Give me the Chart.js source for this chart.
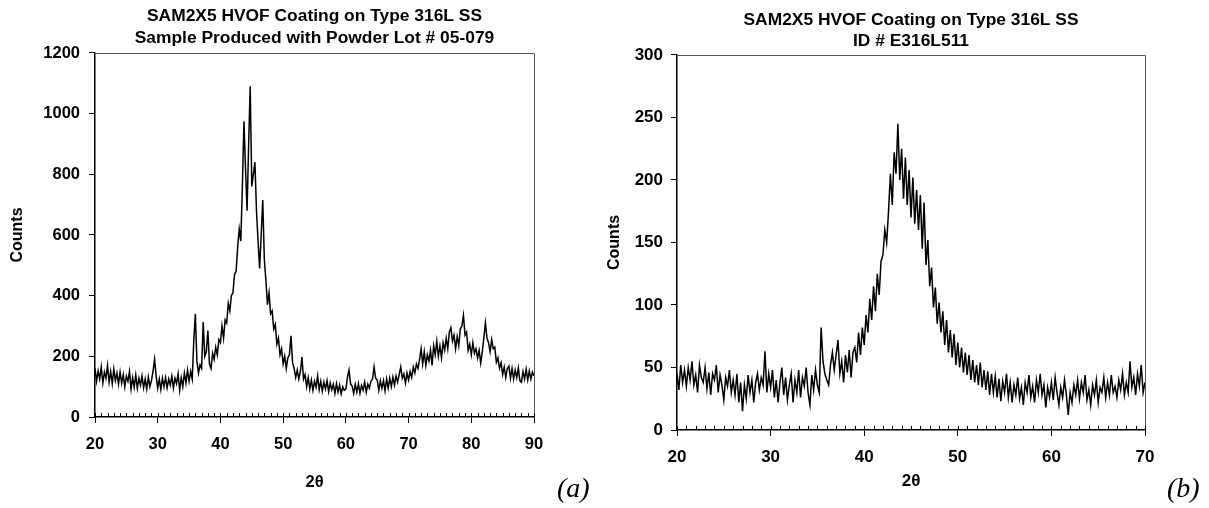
<!DOCTYPE html>
<html>
<head>
<meta charset="utf-8">
<title>SAM2X5 HVOF coating XRD</title>
<script src="https://cdn.jsdelivr.net/npm/chart.js@4.4.1/dist/chart.umd.min.js"></script>
<style>
  html, body { margin: 0; padding: 0; background: #fff; overflow: hidden; }
  #wrap { position: relative; width: 1209px; height: 508px; }
  canvas { position: absolute; top: 0; }
  #chartA { left: 0; }
  #chartB { left: 600px; }
  .panel-tag { position: absolute; top: 474px; font: italic 28px "Liberation Serif", "Times New Roman", serif; line-height: 1; color: #000; }
</style>
</head>
<body>
<div id="wrap">
  <canvas id="chartA" width="600" height="508"></canvas>
  <canvas id="chartB" width="609" height="508"></canvas>
  <div class="panel-tag" style="left:557px">(a)</div>
  <div class="panel-tag" style="left:1167px">(b)</div>
</div>
<script>
// Panel (a): powder lot 05-079, scan 20-90 deg, one reading every 0.25 deg
const scanA = { start: 20, step: 0.25 };
const countsA = [
  160, 118, 152, 125, 165, 112, 148, 128,   // 20-22
  170, 115, 150, 110, 158, 120, 145, 108,   // 22-24
  148, 112, 140, 100, 135, 118, 150, 92,    // 24-26
  130, 98, 138, 95, 128, 105, 135, 96,      // 26-28
  125, 92, 132, 100, 120, 150, 190, 135,    // 28-30
  95, 125, 90, 128, 100, 130, 96, 125,      // 30-32
  105, 135, 95, 128, 110, 142, 88, 130,     // 32-34
  100, 145, 112, 155, 118, 150, 125, 250,   // 34-36
  340, 185, 145, 172, 160, 313, 200, 215,   // 36-38
  285, 175, 160, 210, 190, 230, 205, 255,   // 38-40
  245, 300, 260, 320, 310, 375, 350, 400,   // 40-42
  410, 470, 480, 560, 620, 580, 760, 975,   // 42-44
  820, 680, 900, 1090, 760, 800, 840, 680,  // 44-46
  580, 490, 600, 715, 520, 450, 370, 410,   // 46-48
  340, 350, 290, 305, 240, 260, 205, 225,   // 48-50
  175, 200, 160, 195, 205, 268, 180, 160,   // 50-52
  130, 155, 125, 150, 198, 125, 140, 100,   // 52-54
  130, 92, 122, 88, 118, 98, 135, 90,       // 54-56
  118, 85, 115, 92, 120, 84, 112, 90,       // 56-58
  108, 78, 110, 82, 105, 76, 100, 88,       // 58-60
  92, 130, 155, 110, 102, 78, 108, 82,      // 60-62
  110, 78, 104, 88, 115, 82, 108, 95,       // 62-64
  118, 125, 165, 128, 122, 88, 120, 95,     // 64-66
  120, 86, 125, 95, 128, 100, 132, 105,     // 66-68
  135, 115, 140, 165, 128, 142, 112, 145,   // 68-70
  122, 150, 130, 165, 145, 175, 160, 190,   // 70-72
  225, 175, 215, 170, 205, 185, 220, 170,   // 72-74
  235, 205, 250, 200, 235, 195, 245, 220,   // 74-76
  260, 225, 280, 295, 250, 270, 225, 265,   // 76-78
  235, 290, 300, 335, 270, 280, 220, 240,   // 78-80
  205, 245, 210, 225, 195, 220, 178, 215,   // 80-82
  260, 310, 260, 245, 215, 255, 225, 230,   // 82-84
  180, 195, 160, 178, 140, 165, 130, 160,   // 84-86
  168, 128, 160, 125, 155, 130, 162, 120,   // 86-88
  115, 150, 125, 158, 122, 152, 125, 148,   // 88-90
  135
];
const titleA = ['SAM2X5 HVOF Coating on Type 316L SS', 'Sample Produced with Powder Lot # 05-079'];

// Panel (b): ID # E316L511, scan 20-70 deg, one reading every 0.2 deg
const scanB = { start: 20, step: 0.2 };
const countsB = [
  45, 32, 52, 38, 48,    // 20
  35, 50, 40, 55, 36,    // 21
  44, 30, 52, 42, 38,    // 22
  50, 33, 46, 28, 45,    // 23
  40, 52, 30, 44, 36,    // 24
  24, 42, 35, 48, 30,    // 25
  40, 28, 45, 22, 38,    // 26
  15, 36, 25, 44, 30,    // 27
  40, 22, 38, 45, 32,    // 28
  42, 36, 63, 30, 45,    // 29
  34, 48, 26, 40, 22,    // 30
  38, 50, 28, 42, 24,    // 31
  36, 45, 22, 40, 30,    // 32
  48, 26, 42, 35, 50,    // 33
  30, 20, 44, 32, 48,    // 34
  36, 30, 82, 55, 45,    // 35
  40, 36, 52, 62, 48,    // 36
  60, 72, 45, 55, 38,    // 37
  60, 46, 64, 42, 62,    // 38
  66, 54, 78, 60, 82,    // 39
  68, 92, 78, 105, 88,   // 40
  115, 95, 125, 108, 135,  // 41
  140, 160, 150, 175, 205, // 42
  180, 222, 205, 245, 200, // 43
  225, 185, 218, 180, 208, // 44
  170, 202, 165, 192, 160, // 45
  188, 145, 182, 132, 152, // 46
  115, 130, 98, 114, 85,   // 47
  102, 78, 95, 68, 88,   // 48
  62, 80, 58, 77, 52,    // 49
  70, 50, 66, 46, 62,    // 50
  44, 60, 40, 56, 38,    // 51
  52, 36, 54, 34, 48,    // 52
  32, 47, 28, 45, 30,    // 53
  43, 26, 41, 23, 39,    // 54
  30, 45, 26, 38, 22,    // 55
  36, 28, 42, 25, 34,    // 56
  20, 38, 30, 44, 26,    // 57
  35, 22, 40, 30, 45,    // 58
  28, 36, 18, 34, 26,    // 59
  38, 24, 42, 30, 20,    // 60
  34, 26, 40, 28, 12,    // 61
  30, 22, 36, 28, 40,    // 62
  25, 38, 30, 44, 24,    // 63
  32, 20, 36, 28, 40,    // 64
  22, 34, 30, 42, 26,    // 65
  38, 28, 44, 30, 35,    // 66
  26, 40, 32, 45, 28,    // 67
  38, 30, 55, 34, 42,    // 68
  28, 45, 35, 52, 30,    // 69
  38                     // 70
];
const titleB = ['SAM2X5 HVOF Coating on Type 316L SS', 'ID # E316L511'];

// Axis ranges and tick spacing
const xRangeA = [20, 90], yRangeA = [0, 1200], yStepA = 200;
const xRangeB = [20, 70], yRangeB = [0, 300], yStepB = 50;
const xStep = 10;

Chart.defaults.font.family = '"Liberation Sans", Arial, Helvetica, sans-serif';
Chart.defaults.font.weight = 'bold';
Chart.defaults.color = '#000';

// pair each reading with its 2-theta position on the scan grid
function toPoints(scan, counts) {
  return counts.map((c, i) => ({ x: +(scan.start + i * scan.step).toFixed(2), y: c }));
}

// Excel-style frame: grey top/right edge and 1-degree minor ticks inside the x axis
const plotFrame = {
  id: 'plotFrame',
  afterDatasetsDraw(chart) {
    const { ctx, chartArea: a, scales: { x } } = chart;
    ctx.save();
    ctx.lineWidth = 1;
    ctx.strokeStyle = '#555';
    ctx.beginPath();
    ctx.moveTo(a.left, Math.round(a.top) + 0.5);
    ctx.lineTo(Math.round(a.right) + 0.5, Math.round(a.top) + 0.5);
    ctx.lineTo(Math.round(a.right) + 0.5, a.bottom);
    ctx.stroke();
    ctx.strokeStyle = '#000';
    ctx.beginPath();
    for (let v = x.min; v <= x.max; v++) {
      const px = Math.round(x.getPixelForValue(v)) + 0.5;
      ctx.moveTo(px, a.bottom);
      ctx.lineTo(px, a.bottom - 4);
    }
    ctx.stroke();
    ctx.restore();
  }
};

function makeChart(canvasId, cfg) {
  return new Chart(document.getElementById(canvasId), {
    type: 'line',
    data: {
      datasets: [{
        data: cfg.points,
        borderColor: '#000',
        borderWidth: 1.5,
        pointRadius: 0,
        tension: 0,
        fill: false
      }]
    },
    options: {
      responsive: false,
      animation: false,
      parsing: false,
      layout: { padding: { left: 0, right: cfg.padRight, top: 0, bottom: 0 } },
      plugins: {
        legend: { display: false },
        tooltip: { enabled: false },
        title: {
          display: true,
          fullSize: false,
          text: cfg.title,
          color: '#000',
          font: { size: 17.4, weight: 'bold', lineHeight: 1.247 },
          padding: cfg.titlePad
        }
      },
      scales: {
        x: {
          type: 'linear',
          min: cfg.xRange[0],
          max: cfg.xRange[1],
          ticks: { stepSize: xStep, maxRotation: 0, padding: cfg.xTickPad, font: { size: cfg.tickSize, weight: 'bold' } },
          grid: { drawOnChartArea: false, drawTicks: true, tickLength: 6, color: '#000' },
          border: { color: '#000', width: 1.5 },
          title: { display: true, text: '2θ', font: { size: cfg.tickSize, weight: 'bold' }, padding: { top: 0, bottom: 16 } },
          afterFit: s => { s.height = cfg.xAxisHeight; }
        },
        y: {
          min: cfg.yRange[0],
          max: cfg.yRange[1],
          ticks: { stepSize: cfg.yStep, padding: cfg.yTickPad, format: { useGrouping: false }, font: { size: cfg.tickSize, weight: 'bold' } },
          grid: { drawOnChartArea: false, drawTicks: true, tickLength: 6, color: '#000' },
          border: { color: '#000', width: 1.5 },
          title: { display: true, text: 'Counts', font: { size: 16, weight: 'bold' }, padding: { top: cfg.yTitlePad, bottom: 0 } },
          afterFit: s => { s.width = cfg.yAxisWidth; }
        }
      }
    },
    plugins: [plotFrame]
  });
}

makeChart('chartA', {
  points: toPoints(scanA, countsA),
  title: titleA,
  titlePad: { top: 5.8, bottom: 3.8 },
  xRange: xRangeA, yRange: yRangeA, yStep: yStepA,
  tickSize: 16.5, xTickPad: 12, yTickPad: 9, yTitlePad: 8,
  yAxisWidth: 95, xAxisHeight: 91, padRight: 66
});

makeChart('chartB', {
  points: toPoints(scanB, countsB),
  title: titleB,
  titlePad: { top: 9, bottom: 2.5 },
  xRange: xRangeB, yRange: yRangeB, yStep: yStepB,
  tickSize: 17, xTickPad: 11, yTickPad: 8, yTitlePad: 5,
  yAxisWidth: 77, xAxisHeight: 78, padRight: 64
});
</script>
</body>
</html>
